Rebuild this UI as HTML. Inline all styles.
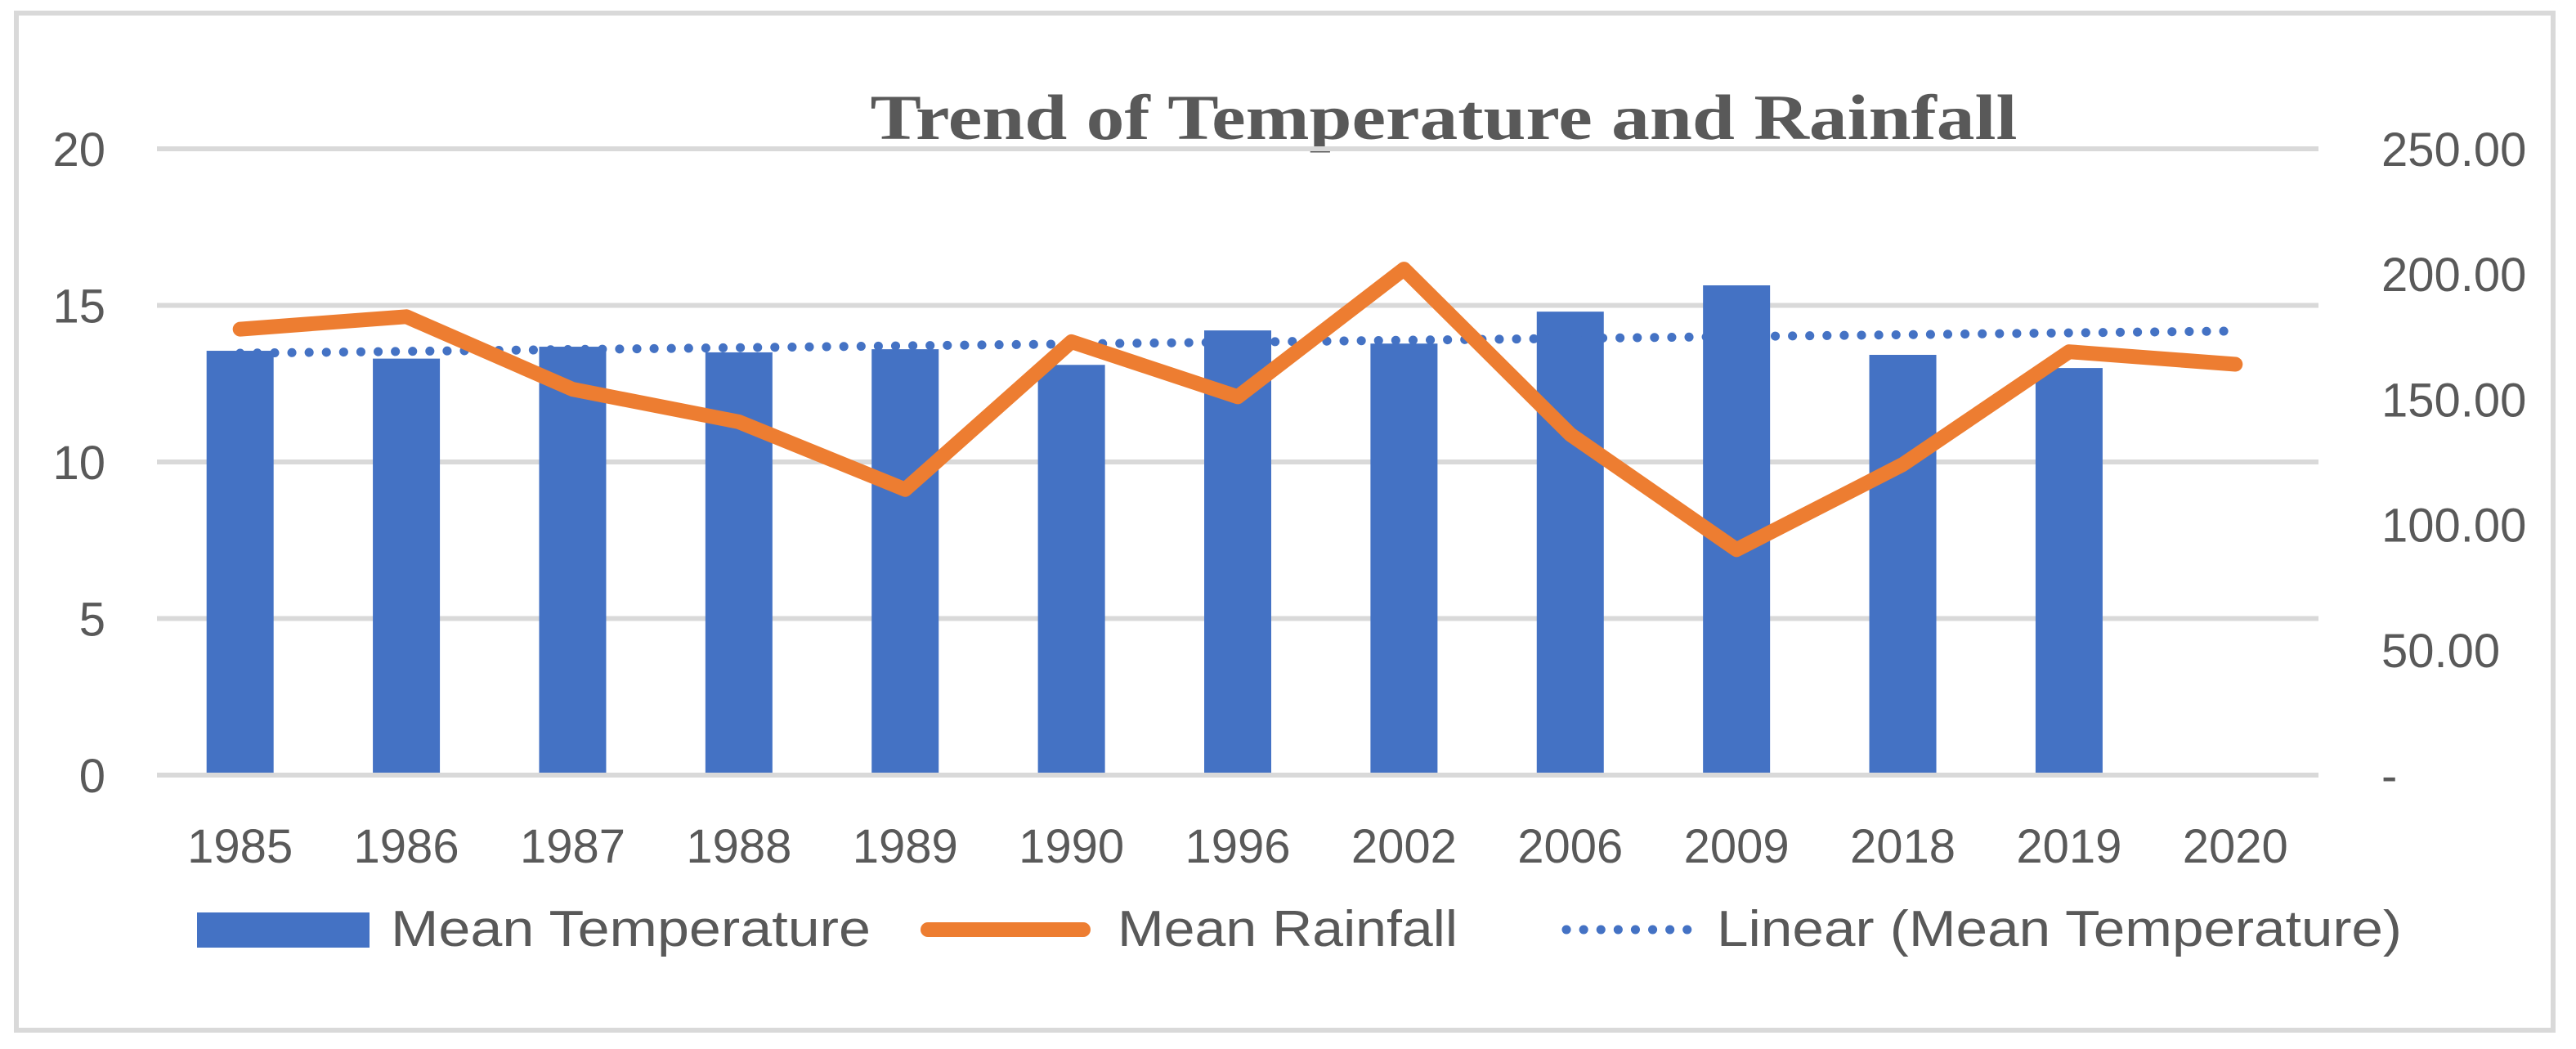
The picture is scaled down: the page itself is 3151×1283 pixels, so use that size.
<!DOCTYPE html>
<html><head><meta charset="utf-8"><style>
html,body{margin:0;padding:0;background:#fff;}
svg{display:block;}
text{font-family:"Liberation Sans",sans-serif;fill:#595959;}
</style></head><body>
<svg id="chart" width="3151" height="1283" viewBox="0 0 3151 1283" xmlns="http://www.w3.org/2000/svg">
<rect x="20" y="16" width="3103" height="1244" fill="#fff" stroke="#d9d9d9" stroke-width="6"/>
<text x="1766" y="170" text-anchor="middle" textLength="1403" lengthAdjust="spacingAndGlyphs" style="font-family:'Liberation Serif',serif;font-weight:bold;font-size:78px;fill:#595959">Trend of Temperature and Rainfall</text>
<g id="grid"></g>
<g id="bars"></g>
<g id="trend"></g>
<g id="rain"></g>
<g id="labels"></g>
<g>
<rect x="241" y="1116" width="211" height="43" fill="#4472c4"/>
<text x="478" y="1157" font-size="62" textLength="587" lengthAdjust="spacingAndGlyphs">Mean Temperature</text>
<line x1="1135" y1="1137" x2="1325" y2="1137" stroke="#ed7d31" stroke-width="18" stroke-linecap="round"/>
<text x="1367" y="1157" font-size="62" textLength="416" lengthAdjust="spacingAndGlyphs">Mean Rainfall</text>
<line x1="1916" y1="1137" x2="2064" y2="1137" stroke="#4472c4" stroke-width="11" stroke-linecap="round" stroke-dasharray="0.1 21"/>
<text x="2100" y="1157" font-size="62" textLength="838" lengthAdjust="spacingAndGlyphs">Linear (Mean Temperature)</text>
</g>
</svg>
<script>
const categories = ["1985","1986","1987","1988","1989","1990","1996","2002","2006","2009","2018","2019","2020"];
const temperature = [13.55,13.3,13.68,13.5,13.6,13.1,14.2,13.78,14.8,15.64,13.42,13.0,null];
const rainfall = [178,183,154,141,114,173,151,202,136,90,124,169,164];
const leftTicks = [0,5,10,15,20];
const rightTicks = ["-","50.00","100.00","150.00","200.00","250.00"];
const rightTickValues = [0,50,100,150,200,250];

const NS="http://www.w3.org/2000/svg";
const X0=192,X1=2836,Y0=948,Y20=182;
const step=(X1-X0)/categories.length;
const xc=i=>X0+step*(i+0.5);
const yL=v=>Y0-(v/20)*(Y0-Y20);
const yR=v=>Y0-(v/250)*(Y0-Y20);
function mk(tag,attrs,parent){const e=document.createElementNS(NS,tag);for(const k in attrs)e.setAttribute(k,attrs[k]);parent.appendChild(e);return e;}

const grid=document.getElementById('grid');
leftTicks.forEach((t,i)=>{
  const l=mk('line',{x1:X0,x2:X1,y1:yL(t),y2:yL(t),stroke:'#d9d9d9','stroke-width':6},grid);
  
  
});
const labels=document.getElementById('labels');
leftTicks.forEach(t=>{
  const tx=mk('text',{x:129,y:yL(t)+21,'text-anchor':'end','font-size':58},labels);
  tx.textContent=t;
  
  
});
rightTicks.forEach((t,i)=>{
  const tx=mk('text',{x:2913,y:yR(rightTickValues[i])+21,'font-size':58},labels);
  tx.textContent=t;
  
  
});
categories.forEach((c,i)=>{
  const tx=mk('text',{x:xc(i),y:1055,'text-anchor':'middle','font-size':58},labels);
  tx.textContent=c;
  
  
});
const bars=document.getElementById('bars');
const bw=82;
temperature.forEach((v,i)=>{
  if(v==null)return;
  const r=mk('rect',{x:xc(i)-bw/2,y:yL(v),width:bw,height:Y0-3-yL(v),fill:'#4472c4'},bars);
  
  
});
const pts=temperature.map((v,i)=>[i,v]).filter(p=>p[1]!=null);
const n=pts.length,mx=pts.reduce((a,p)=>a+p[0],0)/n,my=pts.reduce((a,p)=>a+p[1],0)/n;
let sxy=0,sxx=0;pts.forEach(p=>{sxy+=(p[0]-mx)*(p[1]-my);sxx+=(p[0]-mx)**2;});
const slope=sxy/sxx,icpt=my-slope*mx;
const last=categories.length-1;
const tl=mk('line',{x1:xc(0),y1:yL(icpt),x2:xc(last),y2:yL(icpt+slope*last),stroke:'#4472c4','stroke-width':11,'stroke-linecap':'round','stroke-dasharray':'0.1 21'},document.getElementById('trend'));


const rl=mk('polyline',{points:rainfall.map((v,i)=>xc(i)+','+yR(v)).join(' '),fill:'none',stroke:'#ed7d31','stroke-width':18,'stroke-linecap':'round','stroke-linejoin':'round'},document.getElementById('rain'));


</script>
</body></html>
